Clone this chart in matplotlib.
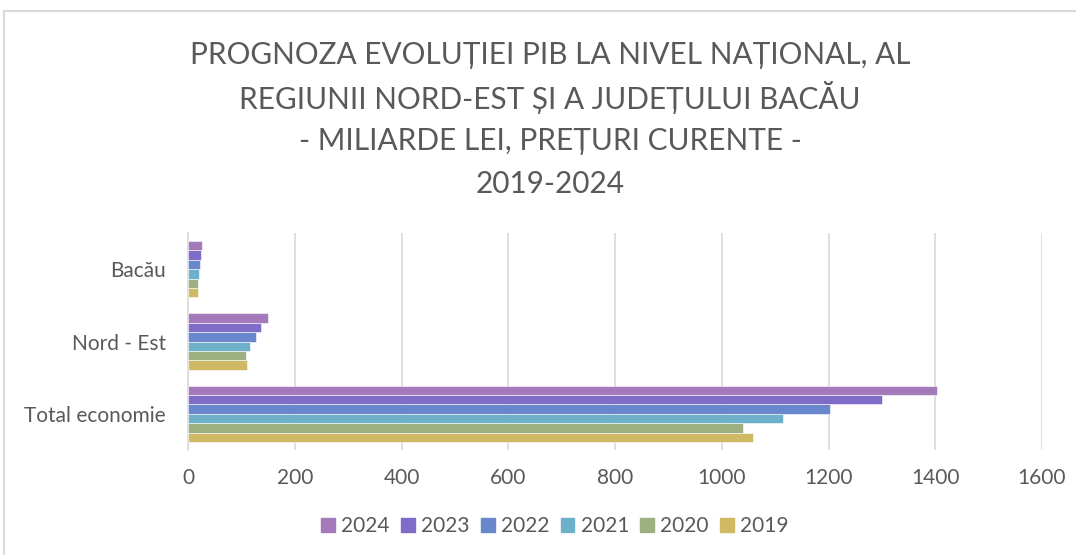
import matplotlib
matplotlib.use('Agg')
import matplotlib.pyplot as plt
from matplotlib.lines import Line2D
import numpy as np

plt.rcParams['font.family'] = ['Lato', 'DejaVu Sans']

# date (miliarde lei)
categories = ['Total economie', 'Nord - Est', 'Bacău']
years = ['2019', '2020', '2021', '2022', '2023', '2024']
val_2019 = [1058, 110, 19]
val_2020 = [1039, 108, 19.5]
val_2021 = [1115, 117, 21]
val_2022 = [1203, 127, 23]
val_2023 = [1300, 137, 25]
val_2024 = [1403, 149, 27]
series = [val_2019, val_2020, val_2021, val_2022, val_2023, val_2024]
colors = ['#CFB964', '#9EB082', '#6CB0CA', '#6887CD', '#7E6CC8', '#A47ABA']

title_lines = ['PROGNOZA EVOLUȚIEI PIB LA NIVEL NAȚIONAL, AL',
               'REGIUNII NORD-EST ȘI A JUDEȚULUI BACĂU',
               '- MILIARDE LEI, PREȚURI CURENTE -',
               '2019-2024']

txt = '#595959'
grid = '#D9D9D9'

fig = plt.figure(figsize=(10.76, 5.55), dpi=100)
ax = fig.add_axes([188 / 1076, 1 - 450 / 555, 854 / 1076, 217 / 555])

y = np.arange(len(categories))
h = 0.13
for i, (vals, c) in enumerate(zip(series, colors)):
    off = (i - 2.5) * h
    ax.barh(y + off, vals, height=h, color=c, edgecolor='white', linewidth=0.4, zorder=3)

ax.set_xlim(0, 1600)
ax.set_ylim(-0.5, 2.5)
ax.set_xticks(np.arange(0, 1601, 200))
ax.set_yticks(y)
ax.set_yticklabels(categories)
ax.tick_params(axis='both', length=0, labelsize=15, colors=txt)
ax.tick_params(axis='y', pad=16)
ax.tick_params(axis='x', pad=13)
ax.grid(axis='x', color=grid, linewidth=1.2, zorder=0)
for s in ['top', 'right', 'bottom']:
    ax.spines[s].set_visible(False)
ax.spines['left'].set_color(grid)
ax.spines['left'].set_linewidth(1.2)

# titlu
for k, line in enumerate(title_lines):
    fig.text(550 / 1076, 1 - (55 + 43 * k) / 555, line, ha='center', va='center',
             fontsize=21.4, color=txt)

# legenda
handles = [plt.Rectangle((0, 0), 1, 1, color=c) for c in colors[::-1]]
fig.legend(handles, years[::-1], loc='center', bbox_to_anchor=(555 / 1076, 1 - 526 / 555),
           ncol=6, frameon=False, fontsize=15, labelcolor=txt, handlelength=0.65,
           handleheight=0.65, handletextpad=0.3, columnspacing=0.55)

# chenarul graficului
fig.add_artist(Line2D([4 / 1076, 1], [1 - 11 / 555, 1 - 11 / 555], color=grid, linewidth=1.5))
fig.add_artist(Line2D([4 / 1076, 4 / 1076], [0, 1 - 11 / 555], color=grid, linewidth=1.5))

fig.savefig('out.png', dpi=100)
